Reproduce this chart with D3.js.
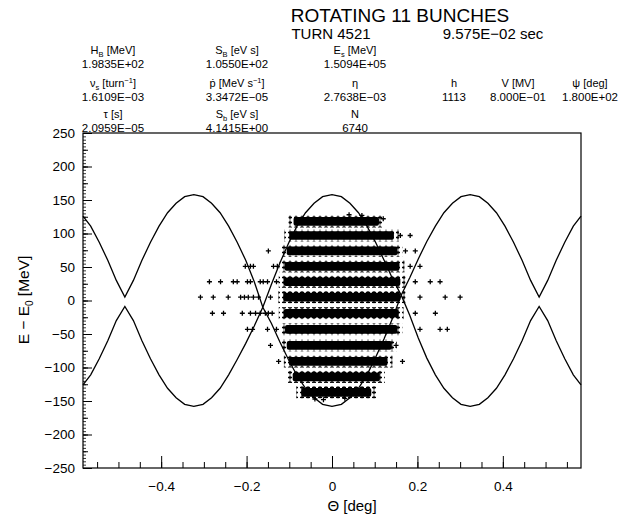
<!DOCTYPE html>
<html><head><meta charset="utf-8">
<script src="https://cdn.jsdelivr.net/npm/d3@7"></script>
<style>
body{margin:0;background:#fff;}
svg text{font-family:"Liberation Sans",Arial,sans-serif;fill:#000;}
</style></head>
<body><svg id="c" width="628" height="518"></svg>
<script>
// ---- data ----
const title = "ROTATING 11 BUNCHES";
const turnText = "TURN 4521";
const timeText = "9.575E\u221202 sec";
const paramLabels = [
  [["H",""],["B","sub"],[" [MeV]",""]],
  [["S",""],["B","sub"],[" [eV s]",""]],
  [["E",""],["s","sub"],[" [MeV]",""]],
  [["\u03bd",""],["s","sub"],[" [turn",""],["\u22121","sup"],["]",""]],
  [["p\u0307 [MeV s",""],["\u22121","sup"],["]",""]],
  [["\u03b7",""]],
  [["h",""]],
  [["V [MV]",""]],
  [["\u03c8 [deg]",""]],
  [["\u03c4 [s]",""]],
  [["S",""],["b","sub"],[" [eV s]",""]],
  [["N",""]]
];
const paramValues = ["1.9835E+02","1.0550E+02","1.5094E+05","1.6109E\u221203","3.3472E\u221205","2.7638E\u221203","1113","8.000E\u221201","1.800E+02","2.0959E\u221205","4.1415E+00","6740"];
const paramCol = [0,1,2,0,1,2,3,4,5,0,1,2];
const paramRow = [0,0,0,1,1,1,1,1,1,2,2,2];

// separatrix curves (theta in deg, E-E0 in MeV)
const sepTheta = [-0.583,-0.565,-0.545,-0.525,-0.505,-0.485,-0.465,-0.445,-0.425,-0.405,-0.385,-0.365,-0.345,-0.3235,-0.302,-0.282,-0.262,-0.242,-0.222,-0.202,-0.182,-0.162,-0.142,-0.122,-0.102,-0.082,-0.062,-0.042,-0.022,0,0.022,0.042,0.062,0.082,0.102,0.122,0.142,0.162,0.182,0.202,0.222,0.242,0.262,0.282,0.302,0.3235,0.345,0.365,0.385,0.405,0.425,0.445,0.465,0.485,0.505,0.525,0.545,0.565,0.583];
const sepUpper = [126,111,87,60,30,5,30,60,87,111,131,145,155,158,155,145,131,111,87,60,28,-10,-34,-62,-88,-112,-131,-145,-155,-158,-155,-145,-131,-111,-85,-57,-26,8,34,62,88,111,131,145,155,158,155,145,131,111,87,60,30,5,30,60,87,111,126];
const sepLower = [-126,-111,-87,-60,-30,-9,-30,-60,-87,-111,-131,-145,-155,-158,-155,-145,-131,-111,-88,-64,-38,-10,24,56,85,111,131,145,155,158,155,145,131,111,87,60,32,8,-22,-56,-86,-111,-131,-145,-155,-158,-155,-145,-131,-111,-87,-60,-30,-9,-30,-60,-87,-111,-126];

// dense particle bands (centre energy, theta extent)
const bandE  = [118,97,74,51,28,5,-19,-43,-67,-91,-114,-137];
const bandLo = [-0.090,-0.100,-0.106,-0.111,-0.113,-0.114,-0.113,-0.110,-0.106,-0.101,-0.092,-0.072];
const bandHi = [0.110,0.145,0.153,0.158,0.160,0.160,0.156,0.153,0.140,0.130,0.112,0.092];
const bandHalf = 6.5;

// sparse particles outside the dense core
const outTheta = [-0.203,-0.191,-0.184,-0.137,-0.128,
  -0.287,-0.261,-0.231,-0.222,-0.198,-0.191,-0.168,-0.161,-0.151,-0.130,
  -0.308,-0.278,-0.243,-0.214,-0.205,-0.196,-0.184,-0.172,-0.144,
  -0.280,-0.254,-0.210,-0.191,-0.179,-0.168,-0.156,-0.149,-0.140,
  -0.198,-0.186,-0.151,-0.130,
  -0.149,-0.144,-0.125,
  0.172,0.195,0.183,0.206,0.195,0.230,0.253,0.206,0.265,0.300,0.195,0.242,0.206,0.253,0.270,
  0.160,0.183,0.040,0.070,0.120,-0.040,-0.020,0.030,0.150,0.165];
const outE = [51,51,51,51,51,
  28,28,28,28,28,28,28,28,28,28,
  5,5,5,5,5,5,5,5,5,
  -19,-19,-19,-19,-19,-19,-19,-19,-19,
  -43,-43,-43,-43,
  74,-67,-91,
  74,74,51,51,28,28,28,5,5,5,-19,-19,-43,-43,-43,
  97,97,128,127,122,-147,-148,-146,-67,-91];

// axis ticks
const yTicks = [-250,-200,-150,-100,-50,0,50,100,150,200,250];
const xTicks = [-0.4,-0.2,0,0.2,0.4];

// ---- drawing ----
const svg = d3.select("#c");
const L=83, R=581, T=133, B=468;
const x = d3.scaleLinear().domain([-0.583,0.583]).range([L,R]);
const y = d3.scaleLinear().domain([-250,250]).range([B,T]);

// plus-texture pattern for the ragged band edges
const defs = svg.append("defs");
const pat = defs.append("pattern").attr("id","plus").attr("patternUnits","userSpaceOnUse")
  .attr("width",6).attr("height",5);
pat.append("path").attr("d","M0,2.5h4M2,0.5v4").attr("stroke","#000").attr("stroke-width",1.3);

// header
svg.append("text").attr("x",400).attr("y",22).attr("text-anchor","middle")
  .style("font-size","19px").style("font-weight","300").text(title);
svg.append("text").attr("x",331).attr("y",39).attr("text-anchor","middle")
  .style("font-size","15px").text(turnText);
svg.append("text").attr("x",493).attr("y",39).attr("text-anchor","middle")
  .style("font-size","15px").text(timeText);

const colX = [113,237,355,454,518,590];
const rowY = [54,87,118];
paramLabels.forEach((parts,i)=>{
  const t = svg.append("text").attr("class","plab").attr("x",colX[paramCol[i]]).attr("y",rowY[paramRow[i]])
    .attr("text-anchor","middle").style("font-size","11px");
  let off = 0;
  parts.forEach(([s,k])=>{
    const ts = t.append("tspan").text(s);
    if(k==="sub"){ ts.attr("dy",2.5-off).style("font-size","7.5px"); off=2.5; }
    else if(k==="sup"){ ts.attr("dy",-4-off).style("font-size","7.5px"); off=-4; }
    else if(off!==0){ ts.attr("dy",-off); off=0; }
  });
  svg.append("text").attr("x",colX[paramCol[i]]).attr("y",rowY[paramRow[i]]+13.5)
    .attr("text-anchor","middle").style("font-size","11.5px").text(paramValues[i]);
});

// frame
svg.append("rect").attr("x",L).attr("y",T).attr("width",R-L).attr("height",B-T)
  .attr("fill","none").attr("stroke","#000").attr("stroke-width",1.2);

// y axis ticks
const gy = svg.append("g").attr("transform",`translate(${L},0)`);
gy.call(d3.axisLeft(y).tickValues(d3.range(-250,251,5)).tickSize(-3).tickFormat(""));
gy.call(g=>g.selectAll(".tick line").attr("stroke-width",0.8));
const gy2 = svg.append("g").attr("transform",`translate(${L},0)`);
gy2.call(d3.axisLeft(y).tickValues(d3.range(-250,251,25)).tickSize(-5).tickFormat(""));
const gy3 = svg.append("g").attr("transform",`translate(${L},0)`);
gy3.call(d3.axisLeft(y).tickValues(yTicks).tickSize(-9).tickPadding(8)
  .tickFormat(d=>d<0?"\u2212"+Math.abs(d):d));
[gy,gy2,gy3].forEach(g=>{g.select(".domain").remove();});

// x axis ticks
const gx = svg.append("g").attr("transform",`translate(0,${B})`);
gx.call(d3.axisBottom(x).tickValues(d3.range(-0.55,0.56,0.05).map(v=>+v.toFixed(2))).tickSize(-6).tickFormat(""));
const gx3 = svg.append("g").attr("transform",`translate(0,${B})`);
gx3.call(d3.axisBottom(x).tickValues(xTicks).tickSize(-12).tickPadding(13)
  .tickFormat(d=>d===0?"0":(d<0?"\u2212":"")+Math.abs(d).toFixed(1)));
[gx,gx3].forEach(g=>g.select(".domain").remove());
svg.selectAll(".tick text").style("font-family","Liberation Sans, Arial, sans-serif").style("font-size","13.5px");

// axis titles
svg.append("text").attr("x",352).attr("y",511).attr("text-anchor","middle")
  .style("font-size","15px").text("\u0398 [deg]");
const yl = svg.append("text").attr("transform","translate(29,300) rotate(-90)")
  .attr("text-anchor","middle").style("font-size","15.5px");
yl.append("tspan").text("E \u2212 E");
yl.append("tspan").text("0").attr("dy",4).style("font-size","10px");
yl.append("tspan").text(" [MeV]").attr("dy",-4);

// plot content
const plot = svg.append("g");
const haloPad = 2.5;
plot.selectAll("rect.halo").data(bandE).join("rect").attr("class","halo")
  .attr("x",(d,i)=>x(bandLo[i])-5).attr("width",(d,i)=>x(bandHi[i])-x(bandLo[i])+10)
  .attr("y",d=>y(d+bandHalf+haloPad)).attr("height",d=>y(d-bandHalf-haloPad)-y(d+bandHalf+haloPad))
  .attr("fill","url(#plus)");
plot.selectAll("rect.band").data(bandE).join("rect").attr("class","band")
  .attr("x",(d,i)=>x(bandLo[i])).attr("width",(d,i)=>x(bandHi[i])-x(bandLo[i]))
  .attr("y",d=>y(d+bandHalf)).attr("height",d=>y(d-bandHalf)-y(d+bandHalf))
  .attr("rx",2).attr("fill","#000");

plot.selectAll("path.pt").data(outTheta).join("path").attr("class","pt")
  .attr("d",(d,i)=>`M${x(d)-2.5},${y(outE[i])}h5M${x(d)},${y(outE[i])-2.5}v5`)
  .attr("stroke","#000").attr("stroke-width",1.3);

const line = d3.line().x((d,i)=>x(sepTheta[i])).y(d=>y(d));
[sepUpper,sepLower].forEach(arr=>{
  plot.append("path").attr("d",line(arr)).attr("fill","none")
    .attr("stroke","#000").attr("stroke-width",1.3);
});
</script></body></html>
